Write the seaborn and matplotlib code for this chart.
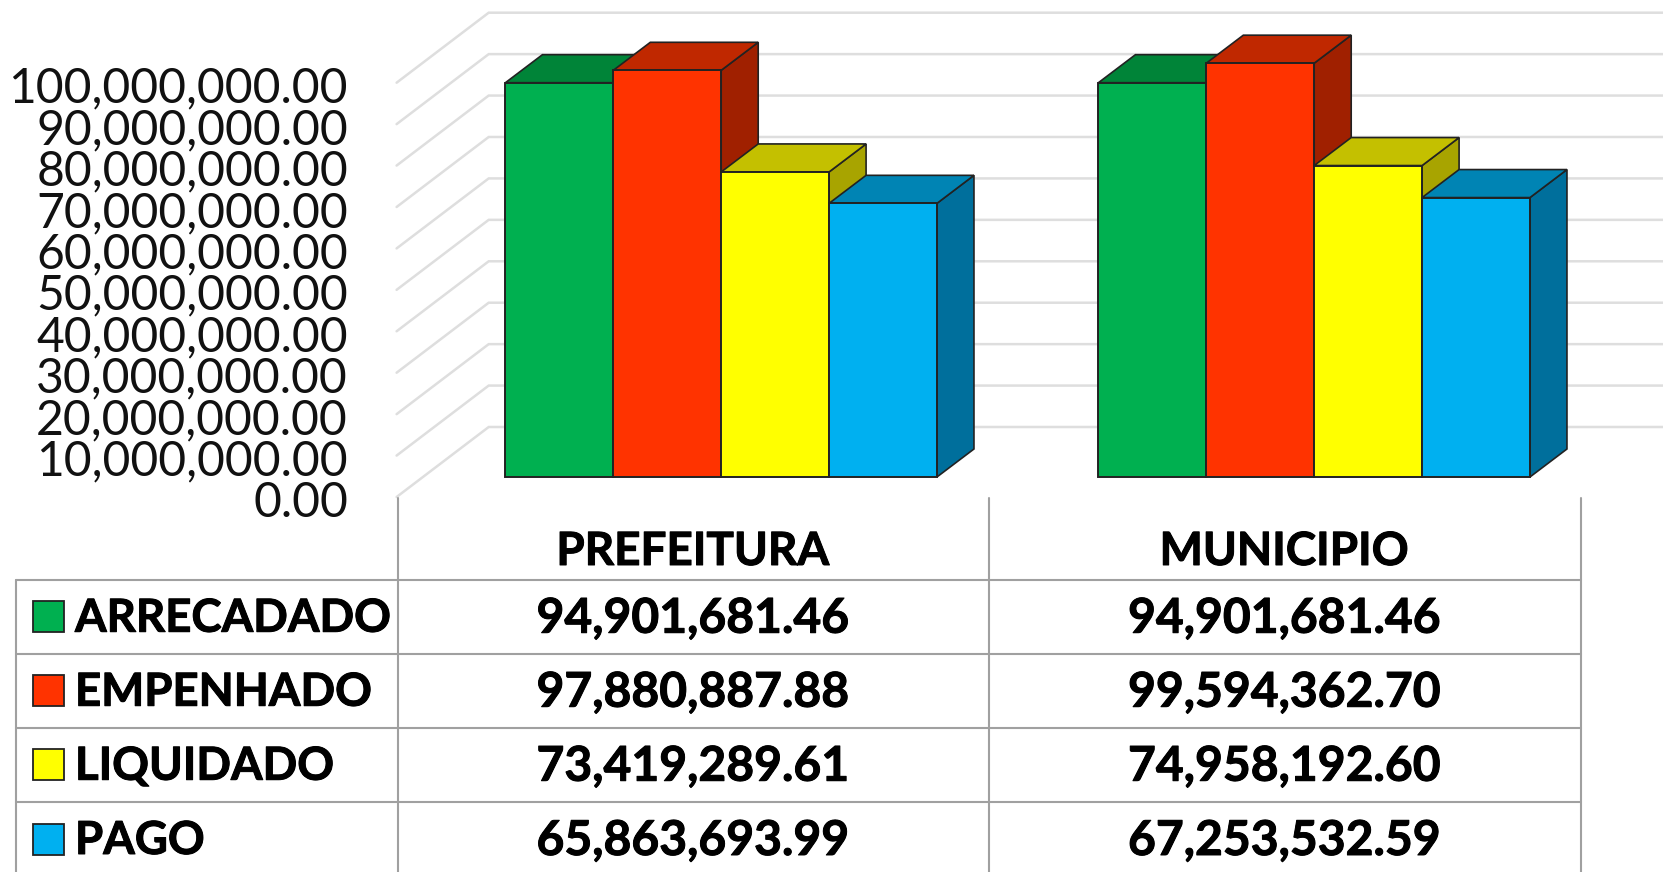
import matplotlib
matplotlib.use("Agg")
import matplotlib.pyplot as plt
from matplotlib.patches import Polygon, Rectangle
from matplotlib.transforms import ScaledTranslation
import matplotlib.patheffects as pe
import pandas as pd
import seaborn as sns

# ---------- data ----------
groups = ["PREFEITURA", "MUNICIPIO"]
series = ["ARRECADADO", "EMPENHADO", "LIQUIDADO", "PAGO"]
prefeitura = [94901681.46, 97880887.88, 73419289.61, 65863693.99]
municipio = [94901681.46, 99594362.70, 74958192.60, 67253532.59]
ticks = [0, 10e6, 20e6, 30e6, 40e6, 50e6, 60e6, 70e6, 80e6, 90e6, 100e6]
front_colors = ["#00B050", "#FF3300", "#FFFF00", "#00B0F0"]
top_colors = ["#008438", "#C02800", "#C4C000", "#0084B4"]
side_colors = ["#006A2E", "#A02000", "#A8A400", "#006F9C"]

W, H = 1663, 872
sns.set_theme(style="white")
plt.rcParams["font.family"] = ["Lato", "DejaVu Sans"]

fig = plt.figure(figsize=(W / 100, H / 100), dpi=100, facecolor="white")
GRID = "#DEDEDE"
LINE = "#A0A0A0"
FS_TICK = 34.6
FS_LABEL = 32.8
FS_VALUE = 34.6
FS_HEAD = 33
HEAVY = [pe.withStroke(linewidth=0.7, foreground="black")]


def px_axes(left, top, right, bottom, z):
    return fig.add_axes(
        [left / W, 1 - bottom / H, (right - left) / W, (bottom - top) / H], zorder=z
    )


# ---------- walls and value axis ----------
WALL_L, WALL_DX, WALL_DY = 396.6, 92.1, 70.0
axis_ax = px_axes(WALL_L, 82.7, W, 497.0, 1)
axis_ax.set_xlim(0, W - WALL_L)
axis_ax.set_ylim(0, 100e6)
per_px = 100e6 / (497.0 - 82.7)
axis_ax.patch.set_visible(False)
for s in axis_ax.spines.values():
    s.set_visible(False)
for t in ticks:
    rise = WALL_DY * per_px
    axis_ax.plot([0, WALL_DX, W - WALL_L], [t, t + rise, t + rise], color=GRID, lw=1.8,
                 clip_on=False, solid_joinstyle="miter")
axis_ax.set_xticks([])
axis_ax.set_yticks(ticks)
axis_ax.set_yticklabels([f"{t:,.2f}" for t in ticks], fontsize=FS_TICK, color="#111111")
axis_ax.tick_params(axis="y", length=0, pad=(WALL_L - 348) * 0.72)
axis_ax.set_ylabel("")
for lab in axis_ax.get_yticklabels():
    lab.set_transform(lab.get_transform() + ScaledTranslation(0, -2 / 100, fig.dpi_scale_trans))

# ---------- bars ----------
df = pd.DataFrame({
    "grupo": [g for g in groups for _ in series],
    "serie": series * len(groups),
    "valor": prefeitura + municipio,
})
ax = fig.add_axes([0, 0, 1, 1], zorder=2)
ax.patch.set_visible(False)
sns.barplot(data=df, x="grupo", y="valor", hue="serie", order=groups, hue_order=series,
            palette=front_colors, saturation=1, width=0.7277, gap=0, legend=False, ax=ax,
            edgecolor="#222222", linewidth=1.4)
X0, XS, Y0, YS = 721.2, 593.0, 477.0, 4.155e-6
ax.set_xlim((0 - X0) / XS, (W - X0) / XS)
ax.set_ylim((Y0 - H) / YS, Y0 / YS)
ax.axis("off")
dx, dy = 37.0 / XS, 28.0 / YS
bars = [p for p in ax.patches if isinstance(p, Rectangle) and p.get_height() > 0]
bars.sort(key=lambda p: p.get_x())
for i, p in enumerate(bars):
    x0, w, h = p.get_x(), p.get_width(), p.get_height()
    k = i % len(series)
    z = 3 + i
    p.set_zorder(z + 0.5)
    ax.add_patch(Polygon([(x0 + w, 0), (x0 + w + dx, dy), (x0 + w + dx, h + dy), (x0 + w, h)],
                         closed=True, facecolor=side_colors[k], edgecolor="#222222", lw=1.2, zorder=z))
    ax.add_patch(Polygon([(x0, h), (x0 + dx, h + dy), (x0 + w + dx, h + dy), (x0 + w, h)],
                         closed=True, facecolor=top_colors[k], edgecolor="#222222", lw=1.2, zorder=z))

# ---------- data table ----------
tb = fig.add_axes([0, 0, 1, 1], zorder=3)
tb.set_xlim(0, W)
tb.set_ylim(H, 0)
tb.axis("off")
col_x = [397.5, 988.5, 1580.5]
row_y = [579.5, 654.0, 727.5, 802.0, 876.0]
TL = 16.0
for y in row_y[:-1]:
    tb.plot([TL, col_x[-1]], [y, y], color=LINE, lw=1.5, clip_on=False)
tb.plot([TL, TL], [row_y[0], H], color=LINE, lw=1.5)
for x in col_x:
    tb.plot([x, x], [498, H], color=LINE, lw=1.5)
col_c = [(col_x[0] + col_x[1]) / 2, (col_x[1] + col_x[2]) / 2]
for g, c in zip(groups, col_c):
    tb.text(c, 548, g, ha="center", va="center_baseline", fontsize=FS_HEAD, fontweight="bold",
            color="black", path_effects=HEAVY)
for r, s in enumerate(series):
    yc = (row_y[r] + row_y[r + 1]) / 2
    ty = yc - 2
    tb.add_patch(Rectangle((32.5, yc - 15.5), 31, 31, facecolor=front_colors[r], edgecolor="#222222", lw=1.3))
    tb.text(75, ty, s, ha="left", va="center_baseline", fontsize=FS_LABEL, fontweight="bold",
            color="black", path_effects=HEAVY)
    tb.text(col_c[0], ty, f"{prefeitura[r]:,.2f}", ha="center", va="center_baseline",
            fontsize=FS_VALUE, fontweight="bold", color="black", path_effects=HEAVY)
    tb.text(col_c[1], ty, f"{municipio[r]:,.2f}", ha="center", va="center_baseline",
            fontsize=FS_VALUE, fontweight="bold", color="black", path_effects=HEAVY)

fig.savefig("out.png", dpi=100, facecolor="white")
